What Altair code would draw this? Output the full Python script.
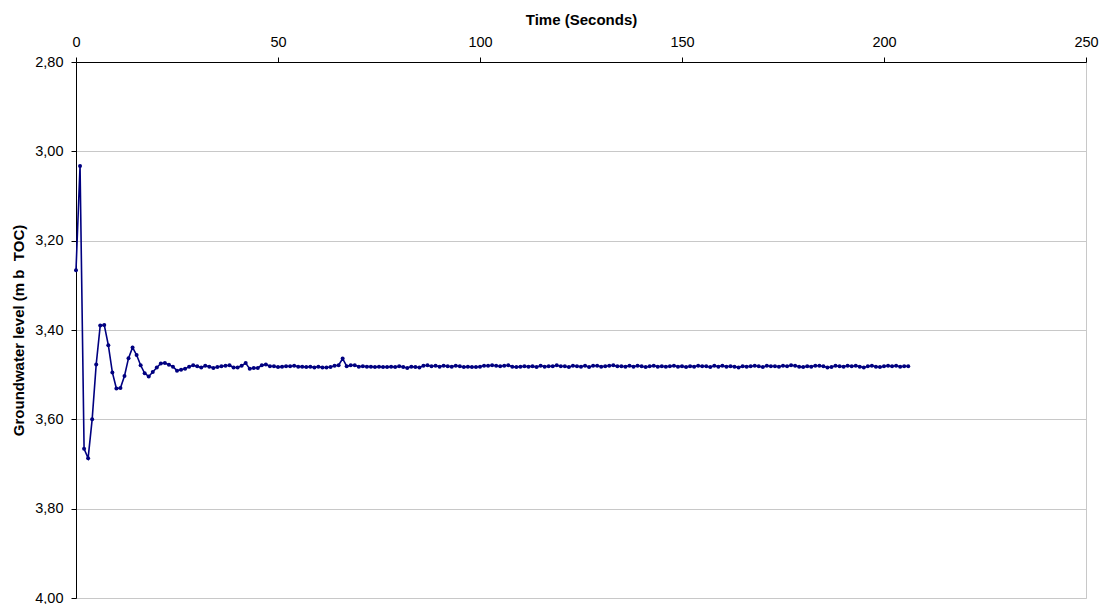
import altair as alt
import pandas as pd

time_s = list(range(0, 207))

level = [
    3.266, 3.033, 3.666, 3.687, 3.600, 3.477, 3.390, 3.389, 3.434, 3.495, 3.531, 3.530, 3.503,
    3.463, 3.439, 3.456, 3.479, 3.497, 3.504, 3.494, 3.484, 3.475, 3.474, 3.478, 3.482, 3.491,
    3.489, 3.487, 3.482, 3.479, 3.481, 3.484, 3.480, 3.482, 3.485, 3.483, 3.481, 3.480, 3.479,
    3.484, 3.484, 3.480, 3.474, 3.487, 3.485, 3.485, 3.479, 3.477, 3.481, 3.481,
    3.483, 3.482, 3.481, 3.481, 3.480, 3.482, 3.482, 3.483, 3.482, 3.484, 3.482, 3.484, 3.484,
    3.483, 3.480, 3.479, 3.464, 3.481, 3.479, 3.479, 3.482, 3.481, 3.482, 3.482, 3.483, 3.482,
    3.483, 3.483, 3.482, 3.483, 3.481, 3.483, 3.485, 3.482, 3.483, 3.484, 3.480, 3.479, 3.481,
    3.480, 3.482, 3.480, 3.481, 3.482, 3.480, 3.481, 3.483, 3.482, 3.483, 3.483, 3.482,
    3.480, 3.480, 3.479, 3.480, 3.481, 3.480, 3.479, 3.482, 3.483, 3.482, 3.481, 3.482, 3.481,
    3.483, 3.480, 3.482, 3.481, 3.481, 3.479, 3.481, 3.481, 3.483, 3.480, 3.481, 3.482,
    3.480, 3.483, 3.480, 3.480, 3.482, 3.481, 3.480, 3.479, 3.481, 3.481, 3.482, 3.480, 3.482,
    3.480, 3.481, 3.483, 3.481, 3.480, 3.482, 3.481, 3.482, 3.481, 3.480, 3.482, 3.481,
    3.483, 3.481, 3.482, 3.480, 3.481, 3.481, 3.483, 3.480, 3.482, 3.480, 3.482, 3.481, 3.482,
    3.484, 3.481, 3.482, 3.481, 3.480, 3.481, 3.483, 3.480, 3.481, 3.481, 3.482, 3.480,
    3.481, 3.479, 3.480, 3.482, 3.483, 3.481, 3.482, 3.480, 3.480, 3.481, 3.484, 3.483, 3.480,
    3.481, 3.482, 3.480, 3.481, 3.480, 3.482, 3.484, 3.481, 3.480, 3.482, 3.483, 3.481, 3.480,
    3.481, 3.480, 3.482, 3.481, 3.481,
]

x_ticks = [0, 50, 100, 150, 200, 250]
y_ticks = [2.8, 3.0, 3.2, 3.4, 3.6, 3.8, 4.0]

df = pd.DataFrame({"t": time_s[: len(level)], "level": level})

FONT = "Liberation Sans"

x_enc = alt.X(
    "t:Q",
    scale=alt.Scale(domain=[0, 250], nice=False),
    axis=alt.Axis(
        orient="top",
        values=x_ticks,
        title="Time (Seconds)",
        titleFontWeight="bold",
        titleFontSize=15,
        titlePadding=7,
        labelFontSize=14.5,
        labelPadding=8,
        labelFlush=False,
        tickSize=5,
        grid=False,
        domainColor="black",
        tickColor="black",
        labelColor="black",
        titleColor="black",
    ),
)
y_enc = alt.Y(
    "level:Q",
    scale=alt.Scale(domain=[2.8, 4.0], reverse=True, nice=False, zero=False),
    axis=alt.Axis(
        values=y_ticks,
        labelExpr="replace(format(datum.value, '.2f'), '.', ',')",
        title="Groundwater level (m b\u00a0 TOC)",
        titleFontWeight="bold",
        titleFontSize=15,
        titlePadding=8,
        labelFontSize=14.5,
        labelPadding=8,
        labelFlush=False,
        tickSize=5,
        grid=True,
        gridColor="#c8c8c8",
        domainColor="black",
        tickColor="black",
        labelColor="black",
        titleColor="black",
    ),
)

base = alt.Chart(df)
line = base.mark_line(color="#000080", strokeWidth=1.6).encode(x=x_enc, y=y_enc)
pts = base.mark_point(filled=True, color="#000080", size=16, opacity=1).encode(x="t:Q", y="level:Q")

chart = (
    alt.layer(line, pts)
    .properties(
        width=1010,
        height=536,
        autosize=alt.AutoSizeParams(type="none"),
        padding={"left": 68, "top": 54, "right": 16, "bottom": 6},
    )
    .configure(font=FONT)
    .configure_view(stroke="#c8c8c8", strokeWidth=1)
)

chart.save("out.html", embed_options={"renderer": "svg", "actions": False})
